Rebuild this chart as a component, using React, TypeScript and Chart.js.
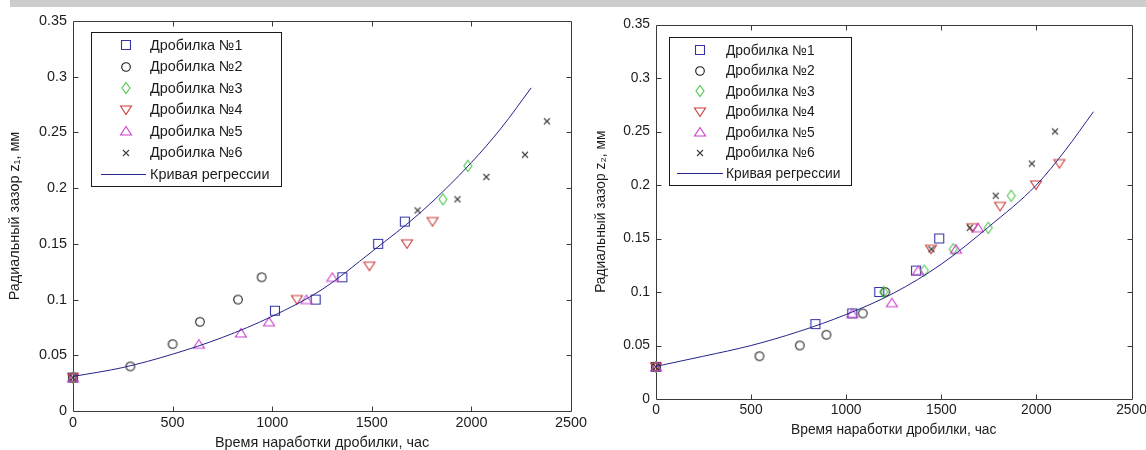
import React, { useEffect, useRef } from 'react';
import { Chart, registerables } from 'chart.js';

Chart.register(...registerables);

// ---------- shared ticks / texts ----------
const xTickValues = [0, 500, 1000, 1500, 2000, 2500];
const xTickLabels = ['0', '500', '1000', '1500', '2000', '2500'];
const yTickValues = [0, 0.05, 0.1, 0.15, 0.2, 0.25, 0.3, 0.35];
const yTickLabels = ['0', '0.05', '0.1', '0.15', '0.2', '0.25', '0.3', '0.35'];

const seriesLabels = ['Дробилка №1', 'Дробилка №2', 'Дробилка №3', 'Дробилка №4', 'Дробилка №5', 'Дробилка №6'];
const curveLabel = 'Кривая регрессии';
const xTitle = 'Время наработки дробилки, час';
const yTitleLeft = 'Радиальный зазор z₁, мм';
const yTitleRight = 'Радиальный зазор z₂, мм';

// ---------- left chart (z1) ----------
const l1x = [0, 1014, 1218, 1352, 1532, 1666];
const l1y = [0.03, 0.09, 0.10, 0.12, 0.15, 0.17];
const l2x = [0, 288, 500, 637, 828, 947];
const l2y = [0.03, 0.04, 0.06, 0.08, 0.10, 0.12];
const l3x = [0, 1857, 1982];
const l3y = [0.03, 0.19, 0.22];
const l4x = [0, 1124, 1488, 1677, 1805];
const l4y = [0.03, 0.10, 0.13, 0.15, 0.17];
const l5x = [0, 632, 843, 984, 1172, 1302];
const l5y = [0.03, 0.06, 0.07, 0.08, 0.10, 0.12];
const l6x = [0, 1730, 1930, 2075, 2269, 2379];
const l6y = [0.03, 0.18, 0.19, 0.21, 0.23, 0.26];
const lCurveX = [0, 250, 500, 750, 1000, 1250, 1500, 1750, 2000, 2150, 2300];
const lCurveY = [0.031, 0.039, 0.051, 0.066, 0.085, 0.109, 0.143, 0.179, 0.223, 0.254, 0.290];

// ---------- right chart (z2) ----------
const r1x = [0, 838, 1032, 1174, 1367, 1489];
const r1y = [0.03, 0.07, 0.08, 0.10, 0.12, 0.15];
const r2x = [0, 544, 756, 896, 1087, 1205];
const r2y = [0.03, 0.04, 0.05, 0.06, 0.08, 0.10];
const r3x = [0, 1197, 1411, 1563, 1747, 1868];
const r3y = [0.03, 0.10, 0.12, 0.14, 0.16, 0.19];
const r4x = [0, 1446, 1664, 1809, 1998, 2121];
const r4y = [0.03, 0.14, 0.16, 0.18, 0.20, 0.22];
const r5x = [0, 1032, 1240, 1378, 1577, 1693];
const r5y = [0.03, 0.08, 0.09, 0.12, 0.14, 0.16];
const r6x = [0, 1448, 1650, 1786, 1976, 2098];
const r6y = [0.03, 0.14, 0.16, 0.19, 0.22, 0.25];
const rCurveX = [0, 250, 500, 750, 1000, 1250, 1500, 1750, 2000, 2150, 2300];
const rCurveY = [0.0305, 0.040, 0.050, 0.063, 0.079, 0.099, 0.126, 0.161, 0.200, 0.232, 0.2685];

const zip = (xs: number[], ys: number[]) => xs.map((x, i) => ({ x, y: ys[i] }));

const FONT = '"Liberation Sans", Arial, Helvetica, sans-serif';
const TEXT = '#1c1c1c';
const AXIS = '#3a3a3a';

// ---------- markers ----------
function makeMarker(kind: string, color: string): HTMLCanvasElement {
  const c = document.createElement('canvas');
  const dims: Record<string, [number, number]> = {
    square: [12, 12], circle: [12, 12], diamond: [12, 14], triDown: [14, 12], triUp: [14, 12], cross: [10, 10],
  };
  const [w, h] = dims[kind];
  c.width = w; c.height = h;
  const g = c.getContext('2d')!;
  g.strokeStyle = color;
  g.lineWidth = 1.1;
  g.beginPath();
  if (kind === 'square') {
    g.rect(1.5, 1.5, 9, 9);
  } else if (kind === 'circle') {
    g.arc(6, 6, 4.3, 0, Math.PI * 2);
  } else if (kind === 'diamond') {
    g.moveTo(6, 1.5); g.lineTo(10, 7); g.lineTo(6, 12.5); g.lineTo(2, 7); g.closePath();
  } else if (kind === 'triDown') {
    g.moveTo(1.5, 2); g.lineTo(12.5, 2); g.lineTo(7, 10.5); g.closePath();
  } else if (kind === 'triUp') {
    g.moveTo(7, 1.5); g.lineTo(12.5, 10); g.lineTo(1.5, 10); g.closePath();
  } else if (kind === 'cross') {
    g.moveTo(2, 2); g.lineTo(8, 8); g.moveTo(8, 2); g.lineTo(2, 8);
  }
  g.stroke();
  return c;
}

const markerKinds = ['square', 'circle', 'diamond', 'triDown', 'triUp', 'cross'];
const markerColors = ['#3434a4', '#1a1a1a', '#4cc84c', '#cc3c3c', '#cc40cc', '#3c3c3c'];
const curveColor = '#24248a';

// ---------- plugins ----------
const framePlugin = {
  id: 'matlabFrame',
  beforeDatasetsDraw(chart: any) {
    const { ctx, chartArea } = chart;
    const xs = chart.scales.x;
    const ys = chart.scales.y;
    const L = Math.round(chartArea.left) + 0.5;
    const R = Math.round(chartArea.right) + 0.5;
    const T = Math.round(chartArea.top) + 0.5;
    const B = Math.round(chartArea.bottom) + 0.5;
    const tl = 5;
    ctx.save();
    ctx.strokeStyle = AXIS;
    ctx.lineWidth = 1;
    ctx.beginPath();
    ctx.rect(L, T, R - L, B - T);
    xs.ticks.forEach((t: any) => {
      const p = Math.round(xs.getPixelForValue(t.value)) + 0.5;
      if (Math.abs(p - L) < 2 || Math.abs(p - R) < 2) return;
      ctx.moveTo(p, B); ctx.lineTo(p, B - tl);
      ctx.moveTo(p, T); ctx.lineTo(p, T + tl);
    });
    ys.ticks.forEach((t: any) => {
      const p = Math.round(ys.getPixelForValue(t.value)) + 0.5;
      if (Math.abs(p - T) < 2 || Math.abs(p - B) < 2) return;
      ctx.moveTo(L, p); ctx.lineTo(L + tl, p);
      ctx.moveTo(R, p); ctx.lineTo(R - tl, p);
    });
    ctx.stroke();
    ctx.restore();
  },
};

const boxLegend = {
  id: 'boxLegend',
  afterDatasetsDraw(chart: any, _args: any, o: any) {
    const { ctx } = chart;
    ctx.save();
    ctx.fillStyle = '#ffffff';
    ctx.fillRect(o.x, o.y, o.w, o.h);
    ctx.strokeStyle = '#1a1a1a';
    ctx.lineWidth = 1;
    ctx.strokeRect(Math.round(o.x) + 0.5, Math.round(o.y) + 0.5, Math.round(o.w), Math.round(o.h));
    ctx.font = `${o.fontSize}px ${FONT}`;
    ctx.fillStyle = TEXT;
    ctx.textBaseline = 'middle';
    ctx.textAlign = 'left';
    chart.data.datasets.forEach((ds: any, i: number) => {
      const cy = o.rowY0 + i * o.rowH;
      if (ds.showLine) {
        ctx.strokeStyle = ds.borderColor;
        ctx.lineWidth = 1;
        ctx.beginPath();
        ctx.moveTo(o.lineX1, Math.round(cy) + 0.5);
        ctx.lineTo(o.lineX2, Math.round(cy) + 0.5);
        ctx.stroke();
      } else {
        const img = ds.pointStyle as HTMLCanvasElement;
        ctx.drawImage(img, Math.round(o.markerX - img.width / 2), Math.round(cy - img.height / 2));
      }
      ctx.fillText(ds.label, o.textX, cy + 1);
    });
    ctx.restore();
  },
};

type Cfg = {
  left: number; width: number;
  pad: { left: number; top: number; right: number; bottom: number };
  yAxisW: number; xAxisH: number; fontSize: number; yTitlePad: number;
  yTitle: string;
  series: { x: number[]; y: number[] }[];
  curve: { x: number[]; y: number[] };
  legend: any;
};

function MatlabPlot({ cfg }: { cfg: Cfg }) {
  const ref = useRef<HTMLCanvasElement>(null);
  useEffect(() => {
    const font = { family: FONT, size: cfg.fontSize };
    const markerDatasets = cfg.series.map((s, i) => ({
      label: seriesLabels[i],
      data: zip(s.x, s.y),
      pointStyle: makeMarker(markerKinds[i], markerColors[i]),
      pointRadius: 5,
      showLine: false,
      clip: false as any,
      order: 7 - i,
    }));
    const curveDataset = {
      label: curveLabel,
      data: zip(cfg.curve.x, cfg.curve.y),
      showLine: true,
      pointRadius: 0,
      borderColor: curveColor,
      borderWidth: 1,
      cubicInterpolationMode: 'monotone' as const,
      clip: false as any,
      order: 0,
    };
    const chart = new Chart(ref.current!, {
      type: 'scatter',
      data: { datasets: [...markerDatasets, curveDataset] as any },
      options: {
        responsive: false,
        animation: false,
        events: [],
        layout: { padding: cfg.pad },
        scales: {
          x: {
            type: 'linear',
            min: 0,
            max: 2500,
            afterBuildTicks: (s: any) => { s.ticks = xTickValues.map((v) => ({ value: v })); },
            afterFit: (s: any) => { s.height = cfg.xAxisH; s.paddingLeft = 0; s.paddingRight = 0; },
            grid: { display: false, drawTicks: false },
            border: { display: false },
            ticks: {
              autoSkip: false,
              maxRotation: 0,
              padding: 3,
              color: TEXT,
              font,
              callback: (v: any) => xTickLabels[xTickValues.indexOf(Number(v))],
            },
            title: { display: true, text: xTitle, color: TEXT, font: { ...font, lineHeight: 1 }, padding: 0 },
          },
          y: {
            type: 'linear',
            min: 0,
            max: 0.35,
            afterBuildTicks: (s: any) => { s.ticks = yTickValues.map((v) => ({ value: v })); },
            afterFit: (s: any) => { s.width = cfg.yAxisW; s.paddingTop = 0; s.paddingBottom = 0; },
            grid: { display: false, drawTicks: false },
            border: { display: false },
            ticks: {
              autoSkip: false,
              padding: 6,
              color: TEXT,
              font,
              callback: (v: any) => yTickLabels[yTickValues.indexOf(Number(v))],
            },
            title: {
              display: true, text: cfg.yTitle, color: TEXT, font: { ...font, lineHeight: 1 },
              padding: { top: cfg.yTitlePad, bottom: 0 },
            },
          },
        },
        plugins: {
          legend: { display: false },
          tooltip: { enabled: false },
          boxLegend: cfg.legend,
        } as any,
      },
      plugins: [framePlugin, boxLegend],
    });
    return () => chart.destroy();
  }, []);
  return (
    <canvas
      ref={ref}
      width={cfg.width}
      height={450}
      style={{ position: 'absolute', left: cfg.left, top: 0, width: cfg.width, height: 450 }}
    />
  );
}

const leftCfg: Cfg = {
  left: 0, width: 600,
  pad: { left: 0, top: 21, right: 29, bottom: 0 },
  yAxisW: 73, xAxisH: 39, fontSize: 14.4, yTitlePad: 7.8,
  yTitle: yTitleLeft,
  series: [
    { x: l1x, y: l1y }, { x: l2x, y: l2y }, { x: l3x, y: l3y },
    { x: l4x, y: l4y }, { x: l5x, y: l5y }, { x: l6x, y: l6y },
  ],
  curve: { x: lCurveX, y: lCurveY },
  legend: {
    x: 91, y: 32, w: 190, h: 154, rowY0: 45, rowH: 21.5,
    markerX: 126, lineX1: 101, lineX2: 146, textX: 150, fontSize: 14.4,
  },
};

const rightCfg: Cfg = {
  left: 590, width: 556,
  pad: { left: 0, top: 24.5, right: 14.5, bottom: 13 },
  yAxisW: 66, xAxisH: 38, fontSize: 13.8, yTitlePad: 3.8,
  yTitle: yTitleRight,
  series: [
    { x: r1x, y: r1y }, { x: r2x, y: r2y }, { x: r3x, y: r3y },
    { x: r4x, y: r4y }, { x: r5x, y: r5y }, { x: r6x, y: r6y },
  ],
  curve: { x: rCurveX, y: rCurveY },
  legend: {
    x: 79, y: 36.5, w: 182, h: 148, rowY0: 50, rowH: 20.5,
    markerX: 110, lineX1: 87, lineX2: 133, textX: 136, fontSize: 13.8,
  },
};

export default function App() {
  return (
    <div style={{ position: 'fixed', left: 0, top: 0, width: 1146, height: 450, background: '#ffffff', overflow: 'hidden' }}>
      <div style={{ position: 'absolute', left: 10, top: 0, width: 1136, height: 7, background: '#cdcdcd' }} />
      <MatlabPlot cfg={leftCfg} />
      <MatlabPlot cfg={rightCfg} />
    </div>
  );
}
